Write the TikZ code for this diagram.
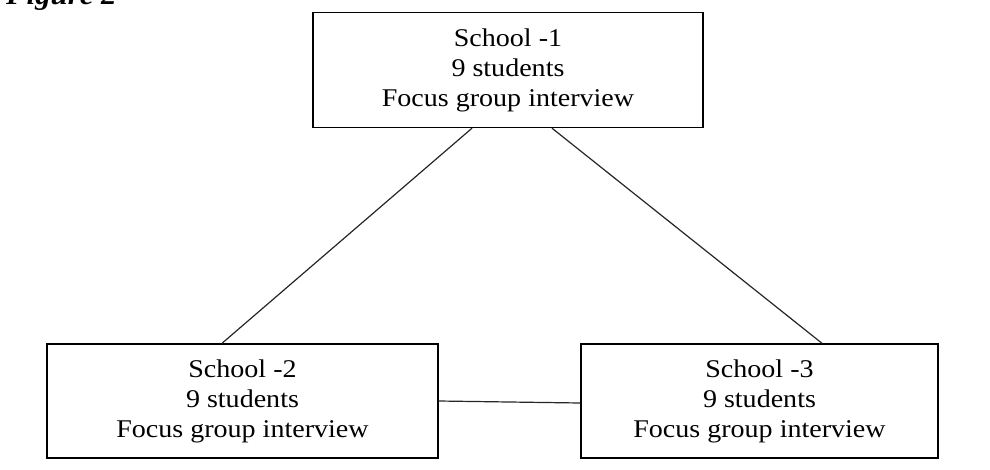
\documentclass[tikz,border=0pt]{standalone}
\usepackage{fontspec}
\setmainfont{Liberation Serif}[FakeStretch=1.1]
\begin{document}
\begin{tikzpicture}[x=1pt,y=-1pt,
  schoolbox/.style={draw=black,line width=1.4pt,inner sep=0pt,align=center,
    font=\fontsize{25.5}{30}\selectfont},
  link/.style={draw=black!85,line width=1.2pt}]
\useasboundingbox (0,0) rectangle (990,469);
\clip (0,0) rectangle (990,469);
\fill[white] (0,0) rectangle (990,469);
\node[anchor=base west,font=\fontsize{28}{30}\selectfont\bfseries\itshape,inner sep=0pt] (fig) at (6,4) {Figure 2};
\node[schoolbox,minimum width=390pt,minimum height=115pt] (top) at (508,70) {School -1\\9 students\\Focus group interview};
\node[schoolbox,minimum width=391pt,minimum height=114pt] (bl) at (242.5,401) {School -2\\9 students\\Focus group interview};
\node[schoolbox,minimum width=357pt,minimum height=114pt] (br) at (759.5,401) {School -3\\9 students\\Focus group interview};
\draw[link] ([xshift=-36pt]top.south) -- ([xshift=-20.5pt]bl.north);
\draw[link] ([xshift=44pt]top.south) -- ([xshift=62.5pt]br.north);
\draw[link] (bl.east) -- ([yshift=-2pt]br.west);
\end{tikzpicture}
\end{document}
